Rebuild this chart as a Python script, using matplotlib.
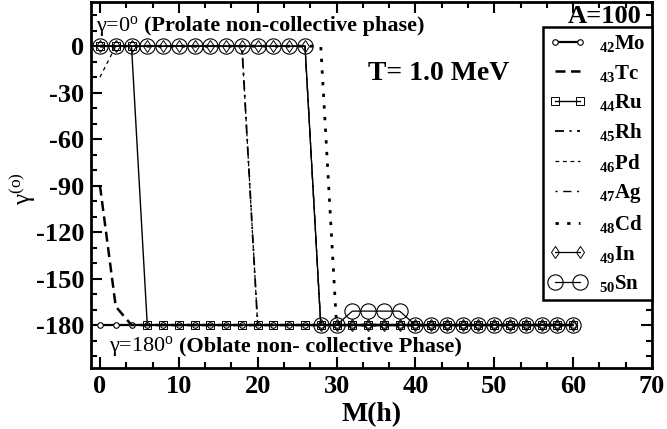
import numpy as np
import matplotlib
matplotlib.use('Agg')
import matplotlib.pyplot as plt
from matplotlib.ticker import MultipleLocator, AutoMinorLocator

plt.rcParams['font.family'] = ['Liberation Serif', 'DejaVu Serif']
plt.rcParams['mathtext.fontset'] = 'custom'
plt.rcParams['mathtext.rm'] = 'Liberation Serif'
plt.rcParams['mathtext.bf'] = 'Liberation Serif:bold'
plt.rcParams['mathtext.it'] = 'Liberation Serif:italic'
plt.rcParams['mathtext.default'] = 'bf'
plt.rcParams['axes.unicode_minus'] = False

# angular momentum grid
M = [0, 2, 4, 6, 8, 10, 12, 14, 16, 18, 20, 22, 24, 26, 28, 30,
     32, 34, 36, 38, 40, 42, 44, 46, 48, 50, 52, 54, 56, 58, 60]

# gamma (deg) for each nucleus, A=100, T=1.0 MeV
Mo = [-180]*31
Tc = [-90, -168] + [-180]*29
Ru = [0, 0, 0] + [-180]*28
Rh = [0]*10 + [-180]*21
Pd = [-20] + [0]*9 + [-180]*21
Ag = [0]*14 + [-180]*17
Cd = [0]*15 + [-180]*16
In = [0]*14 + [-180]*17
Sn = [0]*14 + [-180, -180] + [-171, -171, -171, -171] + [-180]*11

labels = [r'$_{42}$Mo', r'$_{43}$Tc', r'$_{44}$Ru', r'$_{45}$Rh', r'$_{46}$Pd',
          r'$_{47}$Ag', r'$_{48}$Cd', r'$_{49}$In', r'$_{50}$Sn']

fig = plt.figure(figsize=(6.67, 4.29), dpi=100)
ax = fig.add_axes([0.1364, 0.1422, 0.9775-0.1364, 0.996-0.1422])

ax.plot(M, Mo, '-', color='k', lw=1.6, marker='o', ms=4, mfc='white', mec='k', mew=0.8, label=labels[0])
ax.plot(M, Tc, color='k', lw=1.8, dashes=[4, 2.2], label=labels[1])
ax.plot(M, Ru, '-', color='k', lw=1.0, marker='s', ms=6, mfc='none', mec='k', mew=0.7, label=labels[2])
ax.plot(M, Rh, color='k', lw=1.3, dashes=[5, 3, 1.2, 3], label=labels[3])
ax.plot(M, Pd, color='k', lw=0.9, dashes=[3, 3], label=labels[4])
ax.plot(M, Ag, color='k', lw=1.0, dashes=[1.5, 4, 6, 4], label=labels[5])
ax.plot(M, Cd, color='k', lw=2.0, dashes=[1.2, 3], label=labels[6])
ax.plot(M, In, '-', color='k', lw=0.9, marker='d', ms=6, mfc='none', mec='k', mew=0.7, label=labels[7])
ax.plot(M, Sn, '-', color='k', lw=0.9, marker='o', ms=11, mfc='none', mec='k', mew=0.8, label=labels[8])

ax.set_xlim(-1.14, 70)
ax.set_ylim(-207.7, 28.7)
ax.xaxis.set_major_locator(MultipleLocator(10))
ax.xaxis.set_minor_locator(AutoMinorLocator(3))
ax.yaxis.set_major_locator(MultipleLocator(30))
ax.yaxis.set_minor_locator(AutoMinorLocator(3))
ax.set_yticks([0, -30, -60, -90, -120, -150, -180])
ax.tick_params(which='both', direction='in', top=True, right=True, width=1.5)
ax.tick_params(which='major', length=8, labelsize=19, pad=5)
ax.tick_params(which='minor', length=4)
for t in ax.get_xticklabels() + ax.get_yticklabels():
    t.set_fontweight('bold')
for s in ax.spines.values():
    s.set_linewidth(2)

ax.set_xlabel('M(h)', fontsize=20, fontweight='bold', labelpad=3)
fig.text(0.033, 0.56, r'γ$^{\mathrm{(o)}}$', rotation=90, fontsize=18, ha='center', va='center')

ax.text(-0.5, 13, r'γ=0$^{\mathrm{o}}$', fontsize=16, va='center', ha='left')
ax.text(5.6, 13, '(Prolate non-collective phase)', fontsize=16, fontweight='bold', va='center', ha='left')
ax.text(1.2, -194, r'γ=180$^{\mathrm{o}}$', fontsize=16, va='center', ha='left')
ax.text(10.0, -194, '(Oblate non- collective Phase)', fontsize=16, fontweight='bold', va='center', ha='left')
ax.text(42.9, -17.5, 'T= 1.0 MeV', fontsize=20, fontweight='bold', va='center', ha='center')
fig.text(0.907, 0.962, 'A=100', fontsize=19, fontweight='bold', va='center', ha='center')

leg = ax.legend(loc='upper right', bbox_to_anchor=(652/667, 1-27/429), bbox_transform=fig.transFigure,
                numpoints=2, handlelength=1.8, handletextpad=0.6, labelspacing=0.4,
                borderaxespad=0, borderpad=0.3, fancybox=False, framealpha=1, edgecolor='k',
                prop={'weight': 'bold', 'size': 15})
leg.get_frame().set_linewidth(1.8)

fig.savefig('out.png', dpi=100)
